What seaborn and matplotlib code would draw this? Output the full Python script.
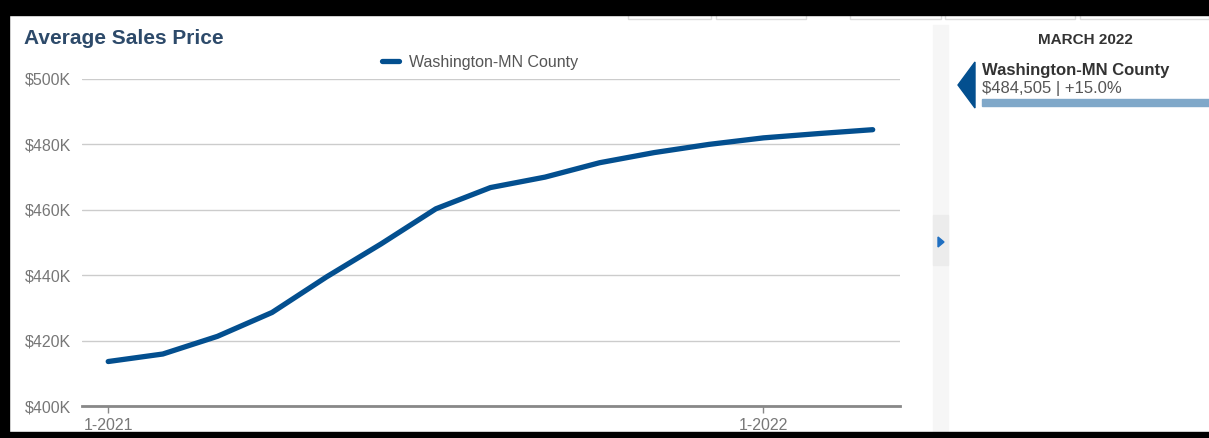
import numpy as np
import pandas as pd
import matplotlib
matplotlib.use("Agg")
import matplotlib.pyplot as plt
import matplotlib.patches as mpatches
import seaborn as sns

# Data (thousands of dollars)
months = ["1-2021", "2-2021", "3-2021", "4-2021", "5-2021", "6-2021", "7-2021",
          "8-2021", "9-2021", "10-2021", "11-2021", "12-2021", "1-2022", "2-2022", "3-2022"]
avg_price = [413.6, 415.9, 421.3, 428.6, 439.5, 449.6, 460.3, 466.8, 470.0,
             474.4, 477.5, 480.0, 482.0, 483.3, 484.5]
series_name = "Washington-MN County"
yticks = [400, 420, 440, 460, 480, 500]
xtick_labels = ["1-2021", "1-2022"]
panel_month = "MARCH 2022"
panel_value = "$484,505 | +15.0%"

df = pd.DataFrame({"month": months, "price": avg_price})
df["idx"] = range(len(df))

sns.set_theme(style="white")
plt.rcParams["font.family"] = ["Liberation Sans", "DejaVu Sans"]

W, H = 1209, 438
fig = plt.figure(figsize=(W / 100, H / 100), dpi=100)

def fx(px):
    return px / W

def fy(py):
    return 1 - py / H

ax = fig.add_axes([fx(82), fy(406), fx(900) - fx(82), fy(79) - fy(406)])
line_col = "#034f8f"
sns.lineplot(data=df, x="idx", y="price", ax=ax, color=line_col, linewidth=3.8,
             label=series_name, solid_capstyle="round")

ax.set_xlim(-0.48, 14.5)
ax.set_ylim(400, 500)
ax.set_yticks(yticks)
ax.set_yticklabels([f"${v}K" for v in yticks], color="#777777", fontsize=11.5)
tick_pos = [months.index(t) for t in xtick_labels]
ax.set_xticks(tick_pos)
ax.set_xticklabels(xtick_labels, color="#777777", fontsize=11.5)
ax.set_xlabel("")
ax.set_ylabel("")
ax.grid(axis="y", color="#cccccc", linewidth=1)
ax.set_axisbelow(True)
for s in ["top", "right", "left"]:
    ax.spines[s].set_visible(False)
ax.spines["bottom"].set_color("#888888")
ax.spines["bottom"].set_linewidth(2)
ax.tick_params(axis="x", bottom=True, length=5, width=1, color="#888888", pad=4)
ax.tick_params(axis="y", left=False, pad=2)

ax.legend(loc="center", bbox_to_anchor=(fx(480), fy(62)), bbox_transform=fig.transFigure,
          frameon=False, handlelength=1.1, handletextpad=0.6,
          prop={"size": 11.5}, labelcolor="#555555")

# title
fig.text(fx(24), fy(38), "Average Sales Price", fontsize=15, fontweight="bold",
         color="#2d4a6a", va="center", ha="left")

# divider strip
fig.patches.append(mpatches.Rectangle((fx(933), fy(438)), fx(15), fy(25) - fy(438),
                                      transform=fig.transFigure, color="#f6f6f6", zorder=0))
fig.patches.append(mpatches.Rectangle((fx(933), fy(265)), fx(15), fy(215) - fy(265),
                                      transform=fig.transFigure, color="#ececec", zorder=0))
fig.patches.append(mpatches.Polygon([[fx(938), fy(237)], [fx(938), fy(247)], [fx(944), fy(242)]],
                                    closed=True, transform=fig.transFigure, color="#1f6fc1"))

# right panel
fig.text(fx(1085), fy(40), panel_month, fontsize=11, fontweight="bold",
         color="#333333", ha="center", va="center")
fig.patches.append(mpatches.Polygon([[fx(975), fy(62)], [fx(975), fy(108)], [fx(958), fy(85)]],
                                    closed=True, transform=fig.transFigure, color="#034f8f"))
fig.text(fx(982), fy(70), series_name, fontsize=12, fontweight="bold",
         color="#333333", ha="left", va="center")
fig.text(fx(982), fy(88), panel_value, fontsize=12, color="#555555", ha="left", va="center")
fig.patches.append(mpatches.Rectangle((fx(982), fy(106)), fx(W) - fx(982), fy(99) - fy(106),
                                      transform=fig.transFigure, color="#80a8c9"))

# tab outlines at top
for x0, x1 in [(628, 711), (716, 806), (850, 941), (945, 1075), (1080, 1209)]:
    fig.patches.append(mpatches.Rectangle((fx(x0), fy(19)), fx(x1) - fx(x0), fy(14) - fy(19),
                                          transform=fig.transFigure, facecolor="white",
                                          edgecolor="#dddddd", linewidth=1))

# black screenshot frame
for rect in [(0, 0, W, 15), (0, 0, 9, H), (0, 432, W, 6)]:
    x0, y0, w, h = rect
    fig.patches.append(mpatches.Rectangle((fx(x0), fy(y0 + h)), fx(w), fy(y0) - fy(y0 + h),
                                          transform=fig.transFigure, color="black", zorder=10))

fig.savefig("out.png", dpi=100)
